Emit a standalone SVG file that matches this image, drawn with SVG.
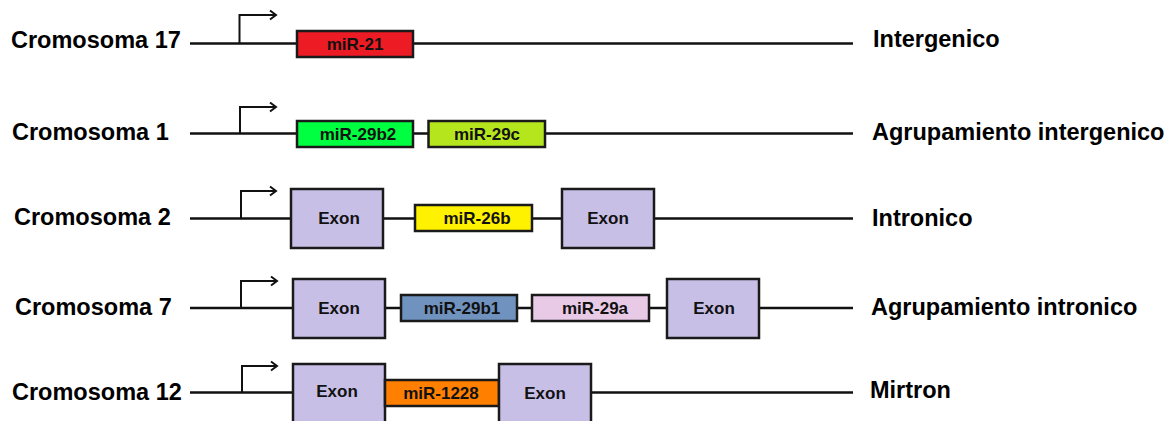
<svg xmlns="http://www.w3.org/2000/svg" width="1172" height="421" viewBox="0 0 1172 421">
<style>
.lbl{font-family:"Liberation Sans",Arial,sans-serif;font-weight:bold;font-size:23.5px;fill:#000}
.bx{font-family:"Liberation Sans",Arial,sans-serif;font-weight:bold;font-size:17px;fill:#111;text-anchor:middle}
.box{stroke:#1a1a1a;stroke-width:2.5}
.chr{stroke:#111;stroke-width:2.5;fill:none}
.prom{stroke:#111;stroke-width:2;fill:none}
.exon{fill:#C8BFE7}
</style>
<rect width="1172" height="421" fill="#fff"/>
<g id="connectors">
<line class="chr" x1="190" y1="43.5" x2="853" y2="43.5"/>
<line class="chr" x1="190" y1="133.5" x2="853" y2="133.5"/>
<line class="chr" x1="190" y1="218.5" x2="853" y2="218.5"/>
<line class="chr" x1="190" y1="308" x2="853" y2="308"/>
<line class="chr" x1="190" y1="392.5" x2="853" y2="392.5"/>
<path class="prom" d="M239.5 43.5V15H276M270 10.5L276 15L270 19.5"/>
<path class="prom" d="M240 133.5V107H276M270 102.5L276 107L270 111.5"/>
<path class="prom" d="M241 218.5V191H276M270 186.5L276 191L270 195.5"/>
<path class="prom" d="M241 308V281H277M271 276.5L277 281L271 285.5"/>
<path class="prom" d="M242 392.5V366H277M271 361.5L277 366L271 370.5"/>
</g>
<g id="row1">
<text class="lbl" x="11" y="48">Cromosoma 17</text>
<g id="mir21"><rect class="box" x="297" y="31" width="116" height="26" fill="#ED1C24"/><text class="bx" x="355" y="50">miR-21</text></g>
<text class="lbl" x="873" y="47">Intergenico</text>
</g>
<g id="row2">
<text class="lbl" x="12" y="140">Cromosoma 1</text>
<g id="mir29b2"><rect class="box" x="297" y="121" width="116" height="26" fill="#00FF40"/><text class="bx" x="358" y="140">miR-29b2</text></g>
<g id="mir29c"><rect class="box" x="428.5" y="121" width="116.5" height="26" fill="#B5E61D"/><text class="bx" x="487" y="140">miR-29c</text></g>
<text class="lbl" x="872" y="140">Agrupamiento intergenico</text>
</g>
<g id="row3">
<text class="lbl" x="14" y="225">Cromosoma 2</text>
<g id="exon3a"><rect class="box exon" x="291" y="189" width="92" height="59"/><text class="bx" x="339" y="224">Exon</text></g>
<g id="mir26b"><rect class="box" x="415" y="205" width="117" height="26" fill="#FFF200"/><text class="bx" x="477" y="224">miR-26b</text></g>
<g id="exon3b"><rect class="box exon" x="562" y="189" width="92" height="59"/><text class="bx" x="608" y="224">Exon</text></g>
<text class="lbl" x="872" y="226">Intronico</text>
</g>
<g id="row4">
<text class="lbl" x="15" y="315">Cromosoma 7</text>
<g id="exon4a"><rect class="box exon" x="293" y="279" width="92" height="59"/><text class="bx" x="339" y="314">Exon</text></g>
<g id="mir29b1"><rect class="box" x="401" y="295" width="116" height="26" fill="#7092BE"/><text class="bx" x="462" y="314">miR-29b1</text></g>
<g id="mir29a"><rect class="box" x="532" y="295" width="117" height="26" fill="#E8CAE6"/><text class="bx" x="595" y="314">miR-29a</text></g>
<g id="exon4b"><rect class="box exon" x="667" y="279" width="92" height="59"/><text class="bx" x="714" y="314">Exon</text></g>
<text class="lbl" x="871" y="315">Agrupamiento intronico</text>
</g>
<g id="row5">
<text class="lbl" x="12" y="400">Cromosoma 12</text>
<g id="exon5a"><rect class="box exon" x="293" y="364" width="92" height="60"/><text class="bx" x="337" y="397">Exon</text></g>
<g id="mir1228"><rect class="box" x="385" y="380" width="114" height="26" fill="#FF7F00"/><text class="bx" x="441" y="399">miR-1228</text></g>
<g id="exon5b"><rect class="box exon" x="499" y="364" width="92" height="60"/><text class="bx" x="545" y="399">Exon</text></g>
<text class="lbl" x="870" y="398">Mirtron</text>
</g>
</svg>
